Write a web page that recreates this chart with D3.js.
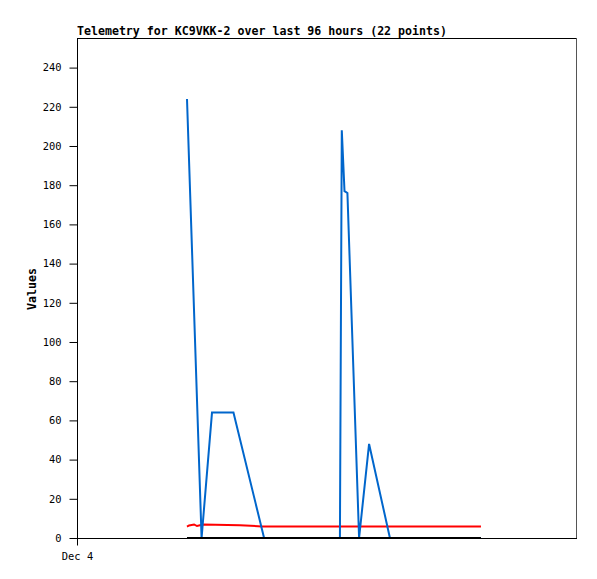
<!DOCTYPE html>
<html>
<head>
<meta charset="utf-8">
<script src="https://cdn.jsdelivr.net/npm/d3@7"></script>
<style>
  html, body { margin: 0; padding: 0; background: #fff; }
  svg { display: block; }
</style>
</head>
<body>
<svg id="chart" width="597" height="579"></svg>
<script>
// ---- data (hours after Dec 4 00:00) ----
const titleText = "Telemetry for KC9VKK-2 over last 96 hours (22 points)";
const yTicks = [0, 20, 40, 60, 80, 100, 120, 140, 160, 180, 200, 220, 240];
const xTickValues = [0];
const xTickLabels = ["Dec 4"];

const blueTimes  = [5.28, 5.98, 6.48, 7.51, 8.98, 12.62, 12.71, 12.84, 12.98, 13.54, 14.02, 15.02, 19.39];
const blueValues = [224, 0, 64, 64, 0, 0, 208, 177, 176, 0, 48, 0, 0];

const redTimes  = [5.28, 5.38, 5.62, 5.76, 6.05, 7.82, 8.88, 19.39];
const redValues = [5.8, 6.4, 6.9, 6.1, 6.9, 6.5, 5.9, 5.9];

const blackTimes  = [5.28, 19.39];
const blackValues = [0, 0];

// ---- layout ----
const svg = d3.select("#chart");
const mLeft = 77, mRight = 577, mTop = 38, mBottom = 538;
const x = d3.scaleLinear().domain([0, 24]).range([mLeft, mRight]);
const y = d3.scaleLinear().domain([0, 255.1]).range([mBottom, mTop]);
const mono = "'DejaVu Sans Mono', monospace";

// frame (top/right)
svg.append("line").attr("x1", mLeft).attr("x2", mRight).attr("y1", mTop + 0.5).attr("y2", mTop + 0.5)
  .attr("stroke", "#000").attr("stroke-width", 1);
svg.append("line").attr("x1", mRight - 0.5).attr("x2", mRight - 0.5).attr("y1", mTop).attr("y2", mBottom)
  .attr("stroke", "#555").attr("stroke-width", 1);

// title
svg.append("text").attr("x", mLeft).attr("y", 35).text(titleText)
  .attr("font-family", mono).attr("font-weight", "bold").attr("font-size", "11.6px").attr("fill", "#000");

// y axis
const yAxis = d3.axisLeft(y).tickValues(yTicks).tickSize(8).tickPadding(8);
const gy = svg.append("g").attr("transform", `translate(${mLeft + 0.5},0)`).call(yAxis);
gy.select(".domain").remove();
gy.append("line").attr("x1", 0).attr("x2", 0).attr("y1", mTop).attr("y2", mBottom).attr("stroke", "#000");
gy.selectAll("text").attr("font-family", mono).attr("font-size", "10.4px").attr("fill", "#000");
gy.selectAll(".tick line").attr("stroke", "#000");

// x axis
const xAxis = d3.axisBottom(x).tickValues(xTickValues).tickFormat((d, i) => xTickLabels[i]).tickSize(7).tickPadding(7);
const gx = svg.append("g").attr("transform", `translate(0,${mBottom + 0.5})`).call(xAxis);
gx.select(".domain").remove();
gx.append("line").attr("x1", mLeft).attr("x2", mRight).attr("y1", 0).attr("y2", 0).attr("stroke", "#000");
gx.selectAll("text").attr("font-family", mono).attr("font-size", "10.4px").attr("fill", "#000");
gx.selectAll(".tick line").attr("stroke", "#000");

// y label
svg.append("text").attr("transform", `translate(36,289) rotate(-90)`).attr("text-anchor", "middle")
  .text("Values").attr("font-family", mono).attr("font-weight", "bold").attr("font-size", "11.6px").attr("fill", "#000");

// series
const line = d3.line().x(d => x(d[0])).y(d => y(d[1]));
function drawSeries(times, values, color) {
  svg.append("path").datum(times.map((t, i) => [t, values[i]]))
    .attr("d", line).attr("fill", "none").attr("stroke", color).attr("stroke-width", 2)
    .attr("stroke-linejoin", "miter");
}
drawSeries(redTimes, redValues, "#ff0000");
drawSeries(blueTimes, blueValues, "#0066cc");
drawSeries(blackTimes, blackValues, "#000000");
</script>
</body>
</html>
